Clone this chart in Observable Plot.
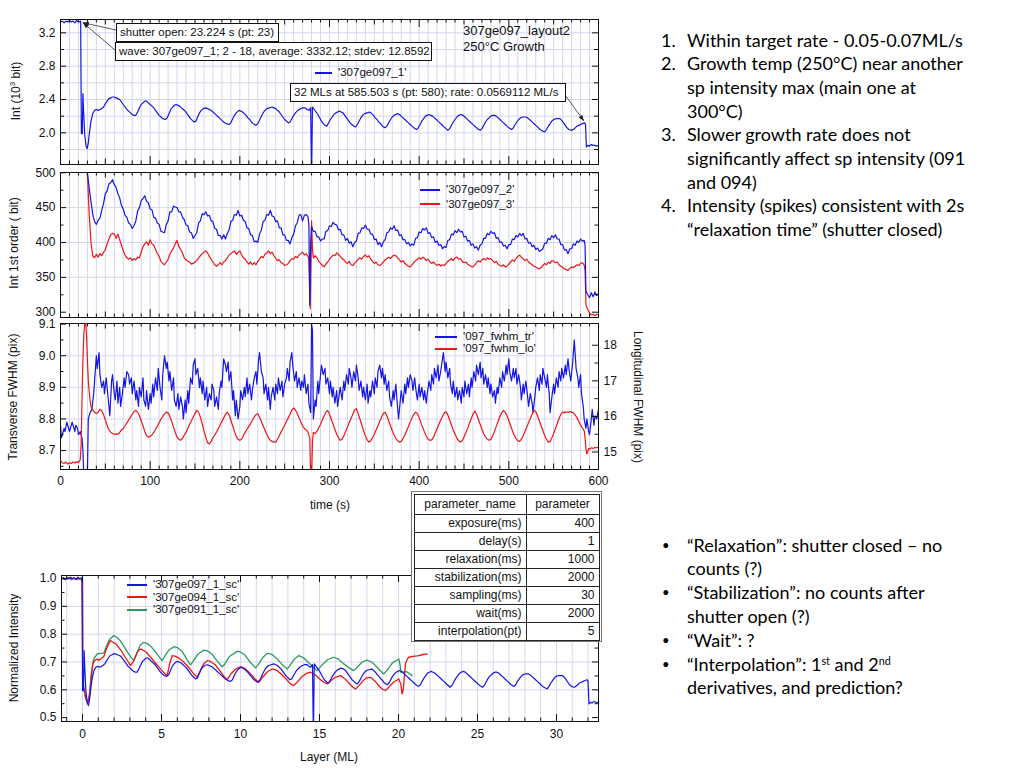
<!DOCTYPE html>
<html><head><meta charset="utf-8">
<script src="https://cdn.jsdelivr.net/npm/d3@7"></script>
<script src="https://cdn.jsdelivr.net/npm/@observablehq/plot@0.6"></script>
<style>
body{margin:0;background:#fff;}
#slide{position:relative;width:1024px;height:768px;overflow:hidden;background:#fff;font-family:"Liberation Sans",Arial,sans-serif;color:#111;}
#slide svg{position:absolute;left:0;top:0;}
.lbl{position:absolute;font-size:11.5px;line-height:14px;white-space:nowrap;}
.rotl{transform:translate(-50%,-50%) rotate(-90deg);font-size:12px;}
.rotr{transform:translate(-50%,-50%) rotate(90deg);font-size:12px;}
.box{position:absolute;border:1px solid #111;background:#fff;font-size:11.5px;box-sizing:border-box;white-space:nowrap;padding-left:3px;}
.leg{position:absolute;height:1.5px;}
.note{position:absolute;font-family:Lato,"Open Sans",sans-serif;font-size:18px;line-height:23px;height:23px;white-space:nowrap;color:#000;}
.bul{position:absolute;font-family:Lato,"Open Sans",sans-serif;font-size:13px;line-height:23px;height:23px;color:#000;}
sup{font-size:0.6em;vertical-align:0.6em;line-height:0;}
#tbl{position:absolute;left:411px;top:491px;width:191px;height:151px;box-sizing:border-box;border:1.5px solid #777;background:#fff;padding:1.5px;}
#tbl table{width:100%;height:100%;border-collapse:collapse;font-size:12px;}
#tbl td{border:1px solid #222;padding:0 4px;text-align:right;line-height:14px;}
#tbl tr.h td{text-align:center;}
</style></head>
<body><div id="slide"></div>
<script>
// ---------------- DATA ----------------
const shutterOpen = 23.224;      // s
const growthRate = 0.0569112;    // ML/s
const averageCounts = 3332.12;   // bit (pre-shutter average)

// '307ge097_1' : [time s, intensity 10^3 bit]
const int097_1 = [[0,3.33],[2,3.34],[4,3.32],[6,3.34],[8,3.33],[10,3.35],[12,3.33],[14,3.34],[16,3.32],[18,3.35],[20,3.33],[22.5,3.34],
[23.3,1.99],[24.3,1.99],[25,2.47],[25.8,2.25],[27,1.98],[28.5,1.84],[29.8,1.81],[31,1.88],[32.5,2.02],[34,2.14],[36,2.23],[38,2.27],[40,2.28],[42,2.27],[44,2.28],[46,2.29],[48,2.31],[50,2.35],[52,2.38],[54,2.41],[56,2.42],[58,2.43],[60,2.43],[62,2.42],[64,2.41],[66,2.40],[68,2.37],[70,2.34],[72,2.31],[74,2.28],[76,2.26],[78,2.24],[80,2.22],[82,2.21],[84,2.21],[86,2.25],[88,2.30],[90,2.34],[92,2.36],[94,2.38],[96,2.38],[98,2.36],[100,2.34],[102,2.32],[104,2.30],[106,2.27],[108,2.24],[110,2.21],[112,2.19],[114,2.17],[117,2.16],[119,2.18],[121,2.23],[123,2.28],[125,2.31],[127,2.33],[129,2.34],[131,2.33],[133,2.32],[135,2.30],[137,2.28],[139,2.26],[141,2.23],[143,2.20],[145,2.17],[147,2.15],[149,2.13],[151,2.14],[153,2.19],[155,2.24],[157,2.27],[159,2.29],[162,2.30],[164,2.29],[166,2.28],[168,2.27],[170,2.25],[172,2.23],[174,2.21],[176,2.19],[178,2.17],[180,2.15],[182,2.13],[185,2.11],[188,2.10],[190,2.12],[192,2.17],[194,2.21],[196,2.24],[199,2.27],[201,2.26],[203,2.25],[205,2.23],[207,2.21],[209,2.18],[211,2.16],[213,2.13],[215,2.11],[218,2.09],[220,2.11],[222,2.15],[224,2.20],[226,2.24],[228,2.27],[230,2.29],[233,2.30],[236,2.31],[238,2.30],[240,2.29],[242,2.27],[244,2.25],[246,2.22],[248,2.19],[250,2.16],[252,2.14],[254,2.12],[256,2.13],[258,2.17],[260,2.21],[262,2.24],[264,2.26],[266,2.28],[268,2.29],[270,2.30],[273,2.30],[275,2.28],[277,2.27],[279,2.30],[280,1.45],[281,2.31],[283,2.28],[285,2.25],[287,2.22],[289,2.18],[291,2.14],[293,2.11],[295,2.09],[297,2.08],[299,2.12],[301,2.16],[303,2.19],[305,2.22],[307,2.24],[309,2.25],[311,2.26],[313,2.25],[315,2.24],[317,2.21],[319,2.18],[321,2.15],[323,2.12],[325,2.10],[327,2.08],[329,2.07],[331,2.10],[333,2.14],[335,2.18],[337,2.21],[339,2.23],[342,2.24],[345,2.25],[347,2.23],[349,2.21],[351,2.18],[353,2.16],[355,2.13],[357,2.11],[359,2.08],[362,2.06],[364,2.08],[366,2.12],[368,2.16],[370,2.19],[372,2.21],[374,2.22],[376,2.23],[378,2.22],[380,2.20],[382,2.18],[384,2.16],[386,2.14],[388,2.12],[390,2.10],[392,2.08],[394,2.06],[397,2.04],[399,2.06],[401,2.10],[403,2.14],[405,2.17],[407,2.20],[409,2.21],[411,2.22],[413,2.21],[415,2.20],[417,2.18],[419,2.16],[421,2.14],[423,2.12],[425,2.10],[427,2.08],[429,2.06],[432,2.03],[434,2.05],[436,2.09],[438,2.13],[440,2.16],[442,2.19],[444,2.21],[447,2.22],[449,2.21],[451,2.19],[453,2.17],[455,2.15],[457,2.13],[459,2.11],[461,2.09],[463,2.07],[465,2.05],[468,2.03],[470,2.05],[472,2.09],[474,2.13],[476,2.16],[478,2.18],[480,2.20],[482,2.21],[484,2.21],[486,2.20],[488,2.18],[490,2.16],[492,2.14],[494,2.12],[496,2.10],[498,2.08],[500,2.06],[503,2.04],[505,2.06],[507,2.10],[509,2.13],[511,2.16],[513,2.18],[516,2.19],[519,2.19],[521,2.18],[523,2.16],[525,2.14],[527,2.12],[529,2.10],[531,2.08],[533,2.06],[535,2.04],[538,2.02],[540,2.01],[542,2.04],[544,2.08],[546,2.11],[548,2.14],[550,2.16],[553,2.17],[557,2.17],[559,2.15],[561,2.12],[563,2.09],[565,2.06],[567,2.04],[570,2.03],[572,2.04],[574,2.06],[576,2.08],[578,2.09],[580,2.10],[582,2.11],[584.5,2.12],[585.5,2.10],[586.5,1.83],[588,1.85],[590,1.84],[592,1.86],[594,1.85],[596,1.85],[598,1.84],[600,1.85]];

// '307ge097_2' : [time s, 1st order intensity bit]
const int097_2 = [[0,1500],[23,1500],[27,700],[30,500],[33,468],[36,440],[38,430],[40,426],[42,432],[44,435],[46,446],[48,456],[50,470],[52,474],[54,484],[56,486],[58,490],[60,483],[62,479],[64,470],[66,464],[68,453],[70,448],[72,439],[74,436],[76,428],[78,426],[80,420],[82,424],[84,431],[86,445],[88,450],[90,460],[92,463],[94,467],[96,459],[98,457],[100,448],[102,447],[104,436],[106,435],[108,428],[110,426],[112,416],[114,415],[116,414],[118,426],[120,431],[122,444],[124,444],[126,452],[128,451],[130,450],[132,444],[134,444],[136,436],[138,433],[140,425],[142,424],[144,415],[146,414],[148,406],[150,410],[152,414],[154,428],[156,431],[158,441],[160,440],[162,444],[164,438],[166,439],[168,431],[170,430],[172,420],[174,419],[176,410],[178,410],[180,405],[182,411],[184,405],[186,413],[188,418],[190,430],[192,432],[194,440],[196,439],[198,446],[200,438],[202,439],[204,432],[206,430],[208,421],[210,420],[212,411],[214,410],[216,401],[218,402],[220,400],[222,412],[224,418],[226,430],[228,432],[230,440],[232,439],[234,446],[236,438],[238,437],[240,430],[242,431],[244,421],[246,421],[248,411],[250,411],[252,403],[254,403],[256,398],[258,407],[260,412],[262,424],[264,428],[266,439],[268,440],[270,431],[272,439],[274,440],[276,437],[277,425],[278,310],[279,400],[280,423],[282,416],[284,416],[286,408],[288,408],[290,402],[292,405],[294,405],[296,416],[298,417],[300,424],[302,423],[304,429],[306,426],[308,425],[310,418],[312,419],[314,411],[316,411],[318,403],[320,406],[322,399],[324,401],[326,394],[328,400],[330,402],[332,413],[334,414],[336,421],[338,420],[340,425],[342,419],[344,419],[346,412],[348,412],[350,404],[352,405],[354,397],[356,400],[358,394],[360,401],[362,404],[364,414],[366,415],[368,421],[370,419],[372,424],[374,417],[376,418],[378,410],[380,411],[382,404],[384,404],[386,398],[388,400],[390,395],[392,398],[394,396],[396,406],[398,407],[400,415],[402,414],[404,420],[406,418],[408,421],[410,413],[412,414],[414,407],[416,408],[418,400],[420,402],[422,396],[424,397],[426,391],[428,394],[430,393],[432,403],[434,404],[436,412],[438,411],[440,417],[442,414],[444,419],[446,415],[448,416],[450,408],[452,409],[454,402],[456,403],[458,396],[460,398],[462,392],[464,394],[466,389],[468,396],[470,398],[472,406],[474,406],[476,413],[478,411],[480,416],[482,413],[484,414],[486,406],[488,407],[490,400],[492,401],[494,395],[496,396],[498,391],[500,397],[502,397],[504,405],[506,404],[508,410],[510,408],[512,413],[514,410],[516,413],[518,405],[520,406],[522,399],[524,400],[526,394],[528,396],[530,390],[532,392],[534,387],[536,389],[538,391],[540,399],[542,399],[544,406],[546,404],[548,410],[550,407],[552,411],[554,405],[556,405],[558,397],[560,397],[562,389],[564,390],[566,384],[568,391],[570,391],[572,398],[574,396],[576,402],[578,400],[580,405],[582,402],[584,403],[585,396],[586,330],[588,325],[590,321],[592,328],[594,322],[596,329],[598,324],[600,327]];

// '307ge097_3' : [time s, 1st order intensity bit]
const int097_3 = [[0,1500],[23,1500],[28,800],[30,500],[32,440],[34,400],[36,381],[38,378],[40,383],[42,379],[44,384],[46,381],[48,386],[50,390],[52,398],[54,405],[56,411],[58,413],[60,412],[62,406],[64,412],[66,404],[68,396],[70,388],[72,382],[74,378],[76,376],[78,378],[80,374],[82,377],[84,375],[86,379],[88,378],[90,386],[92,394],[94,398],[96,401],[98,396],[100,404],[102,398],[104,396],[106,390],[108,384],[110,380],[112,373],[114,370],[116,368],[118,372],[120,376],[122,383],[124,388],[126,392],[128,398],[130,403],[132,394],[134,390],[136,385],[138,378],[140,375],[142,373],[144,372],[146,369],[148,370],[150,372],[152,374],[154,378],[156,381],[158,384],[160,386],[162,388],[164,385],[166,380],[168,376],[170,372],[172,368],[174,366],[176,368],[178,371],[180,368],[182,372],[184,374],[186,378],[188,382],[190,384],[192,386],[194,388],[196,383],[198,386],[200,388],[202,382],[204,378],[206,376],[208,372],[210,369],[212,372],[214,368],[216,371],[218,368],[220,373],[222,376],[224,380],[226,378],[228,383],[230,385],[232,388],[234,384],[236,386],[238,381],[240,377],[242,374],[244,375],[246,371],[248,370],[250,367],[252,368],[254,370],[256,374],[258,377],[260,376],[262,380],[264,378],[266,382],[268,384],[270,386],[272,382],[274,384],[276,380],[277,376],[278.5,305],[279.5,380],[280,431],[281,390],[282,378],[284,381],[286,378],[288,373],[290,370],[292,367],[294,365],[296,369],[298,372],[300,376],[302,379],[304,382],[306,381],[308,385],[310,383],[312,380],[314,377],[316,375],[318,372],[320,370],[322,373],[324,368],[326,367],[328,370],[330,373],[332,376],[334,378],[336,376],[338,380],[340,382],[342,379],[344,381],[346,376],[348,373],[350,370],[352,372],[354,368],[356,367],[358,369],[360,372],[362,375],[364,377],[366,379],[368,377],[370,380],[372,382],[374,381],[376,378],[378,375],[380,372],[382,374],[384,370],[386,368],[388,366],[390,365],[392,368],[394,371],[396,374],[398,376],[400,378],[402,376],[404,379],[406,377],[408,374],[410,376],[412,372],[414,370],[416,372],[418,369],[420,367],[422,369],[424,366],[426,368],[428,367],[430,370],[432,373],[434,375],[436,377],[438,374],[440,378],[442,379],[444,376],[446,377],[448,373],[450,371],[452,372],[454,369],[456,367],[458,366],[460,365],[462,368],[464,371],[466,374],[468,372],[470,375],[472,377],[474,375],[476,378],[478,376],[480,377],[482,374],[484,371],[486,373],[488,369],[490,367],[492,366],[494,368],[496,365],[498,366],[500,369],[502,372],[504,375],[506,373],[508,377],[510,380],[512,382],[514,379],[516,377],[518,374],[520,376],[522,372],[524,370],[526,368],[528,366],[530,365],[532,363],[534,362],[536,364],[538,367],[540,370],[542,368],[544,372],[546,370],[548,374],[550,373],[552,371],[554,372],[556,368],[558,366],[560,364],[562,362],[564,361],[566,360],[568,363],[570,365],[572,364],[574,366],[576,368],[578,367],[580,370],[582,371],[584,368],[585,360],[586,310],[588,304],[590,299],[592,296],[594,297],[596,295],[598,297],[600,296]];

// '097_fwhm_tr' : [time s, transverse FWHM pix]
const fwhmTr = [[0,8.78],[1,8.74],[2,8.75],[4,8.77],[5,8.76],[7,8.79],[8,8.78],[10,8.76],[11,8.77],[13,8.79],[14,8.78],[16,8.76],[17,8.78],[19,8.77],[20,8.75],[22,8.76],[24,8.74],[25,8.70],[26,8.62],[28,8.60],[30,8.62],[31,8.80],[33,8.82],[35,8.83],[37,8.88],[38,8.92],[40,9.00],[41,8.96],[43,9.01],[44,8.94],[46,8.90],[48,8.92],[49,8.88],[51,8.93],[53,8.87],[55,8.81],[57,8.92],[58,8.94],[60,8.88],[61,8.86],[63,8.92],[64,8.85],[66,8.90],[67,8.84],[69,8.88],[71,8.93],[72,8.90],[74,8.95],[76,8.94],[77,8.91],[79,8.93],[80,8.88],[82,8.92],[84,8.86],[85,8.89],[87,8.84],[88,8.90],[90,8.87],[92,8.93],[93,8.86],[95,8.84],[96,8.89],[98,8.83],[100,8.88],[101,8.85],[103,8.91],[104,8.87],[106,8.93],[108,8.89],[109,8.96],[111,8.90],[113,8.86],[114,8.94],[116,9.00],[118,8.96],[119,8.98],[121,8.92],[122,8.95],[124,8.89],[126,8.93],[127,8.86],[129,8.84],[131,8.88],[132,8.83],[134,8.87],[136,8.84],[137,8.80],[139,8.86],[140,8.82],[142,8.89],[143,8.85],[145,8.93],[147,8.91],[148,8.97],[150,8.99],[151,8.94],[153,8.96],[155,8.90],[156,8.93],[158,8.88],[159,8.92],[161,8.86],[163,8.90],[164,8.84],[166,8.88],[168,8.86],[169,8.91],[171,8.89],[172,8.84],[174,8.87],[176,8.83],[177,8.88],[179,8.92],[180,8.90],[182,8.99],[184,8.97],[185,8.95],[187,8.98],[188,8.92],[190,8.95],[192,8.86],[193,8.89],[195,8.81],[196,8.86],[198,8.80],[200,8.84],[201,8.89],[203,8.86],[205,8.90],[206,8.87],[208,8.93],[209,8.88],[211,8.91],[213,8.86],[214,8.89],[216,8.93],[218,8.95],[219,8.91],[221,8.99],[222,9.01],[224,8.95],[226,8.93],[227,8.88],[229,8.91],[231,8.86],[232,8.90],[234,8.83],[235,8.87],[237,8.90],[239,8.86],[240,8.91],[242,8.88],[243,8.93],[245,8.89],[247,8.92],[248,8.87],[250,8.91],[252,8.93],[253,8.96],[255,8.92],[256,8.98],[258,9.01],[259,8.97],[261,8.92],[263,8.95],[264,8.90],[266,8.93],[268,8.89],[269,8.92],[271,8.90],[272,8.94],[274,8.88],[276,8.91],[277,8.85],[279,8.82],[280,9.10],[281,9.08],[282,8.80],[284,8.86],[285,8.84],[287,8.92],[288,8.88],[290,8.94],[291,8.97],[293,8.94],[295,8.96],[296,8.91],[298,8.93],[300,8.88],[301,8.92],[303,8.87],[304,8.90],[306,8.85],[308,8.89],[309,8.84],[311,8.88],[312,8.90],[314,8.86],[316,8.92],[317,8.89],[319,8.94],[321,8.91],[322,8.96],[324,8.93],[325,8.90],[327,8.95],[329,8.92],[330,8.97],[332,8.93],[333,8.89],[335,8.92],[337,8.87],[338,8.90],[340,8.86],[342,8.91],[343,8.85],[345,8.89],[346,8.87],[348,8.92],[350,8.88],[351,8.93],[353,8.90],[354,8.95],[356,8.97],[358,8.93],[359,8.96],[361,8.91],[362,8.94],[364,8.89],[366,8.92],[367,8.87],[369,8.84],[371,8.89],[372,8.86],[374,8.91],[375,8.87],[377,8.80],[379,8.86],[380,8.89],[382,8.85],[384,8.91],[385,8.88],[387,8.93],[388,8.90],[390,8.94],[392,8.92],[393,8.89],[395,8.93],[396,8.90],[398,8.86],[400,8.91],[401,8.87],[403,8.90],[405,8.86],[406,8.89],[408,8.85],[409,8.88],[411,8.92],[413,8.89],[414,8.94],[416,8.91],[417,8.96],[419,8.93],[421,8.97],[422,8.92],[424,8.95],[426,8.99],[427,9.01],[429,8.95],[430,8.98],[432,8.93],[434,8.96],[435,8.91],[437,8.88],[438,8.92],[440,8.87],[442,8.90],[443,8.86],[445,8.89],[447,8.85],[448,8.90],[450,8.87],[451,8.92],[453,8.88],[455,8.91],[456,8.87],[458,8.93],[459,8.90],[461,8.95],[463,8.92],[464,8.97],[466,8.94],[468,8.98],[469,8.93],[471,8.96],[472,8.91],[474,8.94],[476,8.90],[477,8.93],[479,8.88],[480,8.91],[482,8.87],[484,8.89],[485,8.85],[487,8.90],[488,8.88],[490,8.93],[492,8.90],[493,8.95],[495,8.92],[497,8.97],[498,8.94],[500,8.99],[501,8.95],[503,8.92],[505,8.96],[506,8.93],[508,8.96],[509,8.91],[511,8.94],[513,8.90],[514,8.86],[516,8.91],[517,8.88],[519,8.92],[521,8.87],[522,8.84],[524,8.88],[526,8.85],[527,8.82],[529,8.87],[530,8.90],[532,8.93],[534,8.89],[535,8.94],[537,8.91],[538,8.96],[540,8.93],[542,8.90],[543,8.94],[545,8.88],[546,8.82],[548,8.87],[550,8.91],[551,8.88],[553,8.93],[555,8.90],[556,8.95],[558,8.92],[559,8.96],[561,8.93],[563,8.97],[564,8.94],[566,8.99],[567,8.96],[569,8.92],[571,8.97],[572,9.01],[573,9.05],[575,8.96],[577,8.93],[578,8.90],[580,8.94],[581,8.88],[583,8.84],[584,8.80],[586,8.77],[587,8.80],[589,8.76],[590,8.75],[592,8.80],[593,8.83],[595,8.78],[596,8.81],[598,8.80],[600,8.83]];

// '097_fwhm_lo' : [time s, longitudinal FWHM pix]
const fwhmLo = [[0,14.77],[2,14.70],[4,14.68],[6,14.72],[8,14.66],[10,14.70],[12,14.68],[14,14.72],[16,14.69],[18,14.73],[20,14.71],[22,14.78],[23,15.2],[24,16.5],[25,17.6],[26,18.3],[27,18.6],[28,18.65],[29,18.3],[30,17.6],[31,17.0],[32,16.7],[33,16.45],[34,16.28],[36,16.18],[38,16.12],[40,16.08],[42,16.12],[44,16.20],[46,16.16],[48,16.05],[50,15.90],[52,15.75],[54,15.62],[56,15.56],[58,15.52],[60,15.50],[62,15.51],[64,15.50],[66,15.55],[68,15.62],[70,15.66],[72,15.74],[74,15.82],[76,15.90],[78,15.98],[80,16.06],[82,16.14],[84,16.17],[86,16.12],[88,16.02],[90,15.88],[92,15.74],[94,15.58],[96,15.46],[98,15.42],[100,15.44],[102,15.48],[104,15.55],[106,15.64],[108,15.72],[110,15.82],[112,15.92],[114,16.00],[116,16.07],[118,16.12],[120,16.10],[122,16.00],[124,15.86],[126,15.70],[128,15.55],[130,15.42],[132,15.36],[134,15.33],[136,15.38],[138,15.47],[140,15.56],[142,15.66],[144,15.78],[146,15.88],[148,15.98],[150,16.08],[152,16.17],[154,16.12],[156,15.98],[158,15.80],[160,15.60],[162,15.42],[164,15.26],[166,15.23],[168,15.30],[170,15.40],[172,15.48],[174,15.56],[176,15.66],[178,15.76],[180,15.86],[182,15.96],[184,16.06],[186,16.12],[188,16.04],[190,15.90],[192,15.74],[194,15.58],[196,15.44],[198,15.36],[200,15.33],[202,15.36],[204,15.46],[206,15.56],[208,15.64],[210,15.72],[212,15.80],[214,15.90],[216,15.98],[218,16.05],[220,16.08],[222,15.98],[224,15.86],[226,15.74],[228,15.62],[230,15.50],[232,15.40],[234,15.33],[236,15.30],[238,15.28],[240,15.28],[242,15.36],[244,15.46],[246,15.56],[248,15.66],[250,15.76],[252,15.86],[254,15.96],[256,16.06],[258,16.18],[260,16.24],[262,16.18],[264,16.08],[266,15.96],[268,15.84],[270,15.74],[272,15.66],[274,15.62],[276,15.56],[278,15.40],[279,14.30],[280,14.20],[281,15.30],[282,15.55],[284,15.52],[286,15.58],[288,15.68],[290,15.78],[292,15.90],[294,16.02],[296,16.12],[298,16.17],[300,16.06],[302,15.92],[304,15.78],[306,15.64],[308,15.50],[310,15.40],[312,15.33],[314,15.36],[316,15.46],[318,15.58],[320,15.70],[322,15.82],[324,15.94],[326,16.06],[328,16.18],[330,16.22],[332,16.08],[334,15.92],[336,15.76],[338,15.60],[340,15.46],[342,15.34],[344,15.28],[346,15.32],[348,15.40],[350,15.50],[352,15.62],[354,15.74],[356,15.86],[358,15.98],[360,16.08],[362,16.12],[364,16.02],[366,15.88],[368,15.74],[370,15.60],[372,15.48],[374,15.38],[376,15.32],[378,15.28],[380,15.30],[382,15.38],[384,15.48],[386,15.60],[388,15.72],[390,15.84],[392,15.96],[394,16.06],[396,16.12],[398,16.08],[400,15.96],[402,15.82],[404,15.68],[406,15.56],[408,15.44],[410,15.36],[412,15.33],[414,15.34],[416,15.42],[418,15.54],[420,15.66],[422,15.78],[424,15.90],[426,16.00],[428,16.10],[430,16.13],[432,16.04],[434,15.90],[436,15.76],[438,15.62],[440,15.50],[442,15.40],[444,15.32],[446,15.28],[448,15.32],[450,15.42],[452,15.54],[454,15.66],[456,15.80],[458,15.94],[460,16.06],[462,16.15],[464,16.06],[466,15.92],[468,15.78],[470,15.64],[472,15.52],[474,15.42],[476,15.36],[478,15.33],[480,15.36],[482,15.46],[484,15.58],[486,15.72],[488,15.86],[490,16.00],[492,16.10],[494,16.17],[496,16.12],[498,16.02],[500,15.88],[502,15.74],[504,15.60],[506,15.48],[508,15.38],[510,15.32],[512,15.30],[514,15.36],[516,15.46],[518,15.58],[520,15.70],[522,15.82],[524,15.94],[526,16.06],[528,16.18],[530,16.14],[532,16.02],[534,15.88],[536,15.74],[538,15.60],[540,15.46],[542,15.36],[544,15.28],[546,15.30],[548,15.40],[550,15.52],[552,15.66],[554,15.80],[556,15.94],[558,16.06],[560,16.12],[562,16.10],[564,16.13],[566,16.11],[568,16.14],[570,16.12],[572,16.10],[574,16.04],[576,15.96],[578,15.86],[580,15.76],[582,15.68],[584,15.60],[585,15.40],[586,15.10],[587,14.95],[588,15.00],[589,15.10],[590,15.08],[592,15.12],[594,15.10],[596,15.13],[598,15.12],[600,15.14]];

// '307ge094_1_sc' : [layer ML, normalized intensity]
const sc094 = [[-1.33,1.0],[-1.1,0.998],[-0.9,1.002],[-0.7,0.999],[-0.5,1.001],[-0.3,0.998],[-0.1,1.0],[0,0.99],[0.02,0.62],[0.1,0.60],[0.2,0.57],[0.33,0.55],[0.45,0.58],[0.55,0.64],[0.65,0.69],[0.75,0.705],[0.9,0.71],[1.05,0.706],[1.2,0.713],[1.35,0.72],[1.5,0.745],[1.65,0.765],[1.77,0.777],[1.9,0.772],[2.1,0.766],[2.3,0.752],[2.5,0.736],[2.7,0.717],[2.9,0.700],[3.04,0.687],[3.2,0.700],[3.4,0.725],[3.55,0.742],[3.67,0.747],[3.85,0.742],[4.05,0.734],[4.3,0.718],[4.55,0.701],[4.8,0.684],[5.05,0.668],[5.2,0.658],[5.36,0.651],[5.5,0.690],[5.68,0.723],[5.85,0.721],[6.1,0.714],[6.4,0.700],[6.7,0.682],[7.0,0.660],[7.26,0.645],[7.45,0.668],[7.65,0.692],[7.89,0.705],[8.1,0.702],[8.4,0.690],[8.7,0.668],[9.0,0.645],[9.16,0.636],[9.4,0.658],[9.7,0.675],[10.0,0.683],[10.3,0.676],[10.6,0.660],[10.9,0.640],[11.16,0.627],[11.4,0.645],[11.7,0.665],[12.0,0.675],[12.3,0.670],[12.6,0.655],[12.9,0.638],[13.15,0.622],[13.37,0.615],[13.6,0.628],[13.9,0.648],[14.2,0.660],[14.43,0.663],[14.7,0.655],[15.0,0.640],[15.25,0.628],[15.49,0.621],[15.7,0.632],[16.0,0.645],[16.33,0.651],[16.6,0.640],[16.9,0.622],[17.1,0.610],[17.28,0.603],[17.5,0.615],[17.8,0.635],[18.0,0.643],[18.23,0.645],[18.5,0.632],[18.8,0.612],[19.0,0.601],[19.18,0.597],[19.4,0.610],[19.7,0.628],[20.02,0.639],[20.15,0.620],[20.23,0.585],[20.3,0.600],[20.44,0.693],[20.55,0.710],[20.65,0.717],[20.9,0.720],[21.2,0.722],[21.5,0.726],[21.82,0.729]];

// '307ge091_1_sc' : [layer ML, normalized intensity]
const sc091 = [[-1.33,1.0],[-1.2,1.003],[-1.0,0.997],[-0.85,1.004],[-0.7,0.996],[-0.55,1.003],[-0.4,0.997],[-0.25,1.002],[-0.1,0.998],[0,1.0],[0.02,0.63],[0.1,0.60],[0.2,0.57],[0.33,0.555],[0.45,0.59],[0.55,0.66],[0.7,0.71],[0.93,0.729],[1.1,0.731],[1.35,0.732],[1.5,0.755],[1.7,0.78],[1.98,0.795],[2.2,0.788],[2.4,0.776],[2.6,0.758],[2.8,0.740],[3.0,0.722],[3.25,0.705],[3.45,0.735],[3.65,0.760],[3.88,0.771],[4.1,0.766],[4.35,0.755],[4.6,0.738],[4.85,0.718],[5.04,0.705],[5.2,0.720],[5.45,0.742],[5.78,0.755],[6.0,0.752],[6.3,0.738],[6.6,0.710],[6.84,0.690],[7.0,0.702],[7.3,0.728],[7.68,0.743],[7.9,0.740],[8.2,0.728],[8.5,0.705],[8.84,0.683],[9.0,0.692],[9.3,0.720],[9.79,0.738],[10.0,0.736],[10.3,0.724],[10.6,0.700],[10.95,0.679],[11.1,0.688],[11.4,0.715],[11.69,0.731],[12.0,0.727],[12.3,0.712],[12.6,0.693],[12.96,0.675],[13.1,0.685],[13.4,0.710],[13.69,0.723],[14.0,0.715],[14.3,0.698],[14.6,0.682],[14.85,0.669],[15.1,0.685],[15.5,0.708],[15.9,0.717],[16.2,0.710],[16.5,0.695],[16.9,0.678],[17.17,0.669],[17.4,0.682],[17.7,0.700],[18.0,0.707],[18.3,0.700],[18.6,0.684],[18.9,0.666],[19.07,0.657],[19.3,0.672],[19.6,0.696],[20.02,0.711],[20.1,0.690],[20.15,0.663],[20.4,0.665],[20.55,0.664],[20.7,0.658],[20.87,0.651]];

// tick labels
const timeLabels = [0,100,200,300,400,500,600];
const int1Labels = [2.0,2.4,2.8,3.2];
const int1Minor = [1.8,2.2,2.6,3.0];
const int2Labels = [300,350,400,450,500];
const int2Minor = [325,375,425,475];
const trLabels = [8.7,8.8,8.9,9.0,9.1];
const trMinor = [8.65,8.75,8.85,8.95,9.05];
const loLabels = [15,16,17,18];
const loMinor = [15.5,16.5,17.5];
const layerLabels = [0,5,10,15,20,25,30];
const normLabels = [0.5,0.6,0.7,0.8,0.9,1.0];
const normMinor = [0.55,0.65,0.75,0.85,0.95];

// table
const paramNames = ["exposure(ms)","delay(s)","relaxation(ms)","stabilization(ms)","sampling(ms)","wait(ms)","interpolation(pt)"];
const paramValues = [400,1,1000,2000,30,2000,5];

// ---------------- DRAWING ----------------
const FONT = '"Liberation Sans", Arial, sans-serif';
const INK = "#111", GRID = "#d5d5f1";
const BLUE = "#1515e6", RED = "#ee1616", GREEN = "#2e9a5e";
const W = 640, H = 768;
const STYLE = {background: "transparent", overflow: "visible", fontFamily: FONT, fontSize: "12px", color: INK};
const slide = document.getElementById("slide");
const X = d => d[0], Y = d => d[1];
const id = d => d;

function xTicks(ph, sets) {
  const out = [];
  for (const [vals, len] of sets) {
    out.push(Plot.tickX(vals, {x: id, insetBottom: ph - len, stroke: INK}));
    out.push(Plot.tickX(vals, {x: id, insetTop: ph - len, stroke: INK}));
  }
  return out;
}
function yTicks(pw, sets, sides = ["left","right"]) {
  const out = [];
  for (const [vals, len] of sets) {
    if (sides.includes("left")) out.push(Plot.tickY(vals, {y: id, insetRight: pw - len, stroke: INK}));
    if (sides.includes("right")) out.push(Plot.tickY(vals, {y: id, insetLeft: pw - len, stroke: INK}));
  }
  return out;
}
function panel(o) {
  const pw = o.right - o.left, ph = o.bottom - o.top;
  const p = Plot.plot({
    width: W, height: H,
    marginLeft: o.left, marginRight: W - o.right, marginTop: o.top, marginBottom: H - o.bottom,
    x: {domain: o.xd, axis: o.xAxis ? undefined : null},
    y: {domain: o.yd, axis: null},
    style: STYLE,
    marks: o.marks(pw, ph)
  });
  slide.appendChild(p);
  return p;
}

const timeMinor = d3.range(10, 600, 10).filter(t => t % 50 !== 0);
const time50 = [50,150,250,350,450,550];
const timeGrid = d3.range(10, 600, 10);
const timeTickSets = [[timeMinor, 3.5], [time50, 5.5], [timeLabels, 8]];

// Panel 1
const p1 = panel({left: 60, right: 598, top: 19, bottom: 164, xd: [0, 600], yd: [1.62, 3.36],
  marks: (pw, ph) => [
    Plot.ruleX(timeGrid, {x: id, stroke: GRID}),
    Plot.ruleY(d3.range(1.8, 3.35, 0.2), {y: id, stroke: GRID}),
    Plot.line(int097_1, {x: X, y: Y, stroke: BLUE, strokeWidth: 1.2, clip: true}),
    ...xTicks(ph, timeTickSets),
    ...yTicks(pw, [[int1Labels, 6], [int1Minor, 4]]),
    Plot.axisY(int1Labels, {anchor: "left", tickSize: 0, tickPadding: 5, tickFormat: d3.format(".1f"), label: null, fontSize: 12}),
    Plot.frame({stroke: INK})
  ]});

// Panel 2
panel({left: 60, right: 598, top: 172, bottom: 317, xd: [0, 600], yd: [292.4, 500.4],
  marks: (pw, ph) => [
    Plot.ruleX(timeGrid, {x: id, stroke: GRID}),
    Plot.ruleY([350, 400, 450], {y: id, stroke: GRID}),
    Plot.line(int097_3, {x: X, y: Y, stroke: RED, strokeWidth: 1.2, clip: true}),
    Plot.line(int097_2, {x: X, y: Y, stroke: BLUE, strokeWidth: 1.2, clip: true}),
    ...xTicks(ph, timeTickSets),
    ...yTicks(pw, [[int2Labels, 6], [int2Minor, 3.5]]),
    Plot.axisY(int2Labels, {anchor: "left", tickSize: 0, tickPadding: 5, tickFormat: d3.format("d"), label: null, fontSize: 12}),
    Plot.frame({stroke: INK})
  ]});

// Panel 3 (left axis: transverse)
panel({left: 60, right: 598, top: 323, bottom: 469, xd: [0, 600], yd: [8.640, 9.102], xAxis: true,
  marks: (pw, ph) => [
    Plot.ruleX(timeGrid, {x: id, stroke: GRID}),
    Plot.ruleY([8.7, 8.8, 8.9, 9.0], {y: id, stroke: GRID}),
    Plot.line(fwhmTr, {x: X, y: Y, stroke: BLUE, strokeWidth: 1.2, clip: true}),
    ...xTicks(ph, timeTickSets),
    ...yTicks(pw, [[trLabels, 6], [trMinor, 3.5]], ["left"]),
    Plot.axisY(trLabels, {anchor: "left", tickSize: 0, tickPadding: 5, tickFormat: d3.format(".1f"), label: null, fontSize: 12}),
    Plot.axisX(timeLabels, {anchor: "bottom", tickSize: 0, tickPadding: 7, label: null, fontSize: 12}),
    Plot.frame({stroke: INK})
  ]});
// Panel 3 overlay (right axis: longitudinal)
panel({left: 60, right: 598, top: 323, bottom: 469, xd: [0, 600], yd: [14.51, 18.61],
  marks: (pw, ph) => [
    Plot.line(fwhmLo, {x: X, y: Y, stroke: RED, strokeWidth: 1.2, clip: true}),
    ...yTicks(pw, [[loLabels, 6], [loMinor, 3.5]], ["right"]),
    Plot.axisY(loLabels, {anchor: "right", tickSize: 0, tickPadding: 5, label: null, fontSize: 12})
  ]});

// Bottom panel (layer)
const sc097 = int097_1.map(([t, v]) => [(t - shutterOpen) * growthRate, v * 1000 / averageCounts]);
const layerGrid = d3.range(-1, 33, 1);
panel({left: 61, right: 598, top: 575, bottom: 721, xd: [-1.33, 32.66], yd: [0.486, 1.011], xAxis: true,
  marks: (pw, ph) => [
    Plot.ruleX(layerGrid, {x: id, stroke: GRID}),
    Plot.ruleY([0.6, 0.7, 0.8, 0.9], {y: id, stroke: GRID}),
    Plot.line(sc091, {x: X, y: Y, stroke: GREEN, strokeWidth: 1.3, clip: true}),
    Plot.line(sc094, {x: X, y: Y, stroke: RED, strokeWidth: 1.3, clip: true}),
    Plot.line(sc097, {x: X, y: Y, stroke: BLUE, strokeWidth: 1.2, clip: true}),
    ...xTicks(ph, [[layerGrid.filter(v => v % 5 !== 0), 3.5], [layerLabels, 7]]),
    ...yTicks(pw, [[normLabels, 6], [normMinor, 3.5]]),
    Plot.axisY(normLabels, {anchor: "left", tickSize: 0, tickPadding: 5, tickFormat: d3.format(".1f"), label: null, fontSize: 12}),
    Plot.axisX(layerLabels, {anchor: "bottom", tickSize: 0, tickPadding: 8, label: null, fontSize: 12}),
    Plot.frame({stroke: INK})
  ]});

// annotation arrows in panel 1 (tips through the plot's scales)
{
  const sx = p1.scale("x"), sy = p1.scale("y");
  const svg = d3.select(p1);
  const shutterV = int097_1.find(d => d[0] >= 22.5)[1];
  const endPt = int097_1.find(d => d[0] >= 585.5);
  const tip1 = [sx.apply(shutterOpen) + 2, sy.apply(shutterV) + 2];
  const tip2 = [sx.apply(endPt[0]) - 1, sy.apply(endPt[1]) - 3];
  function arrow(x1, y1, [x2, y2]) {
    svg.append("line").attr("x1", x1).attr("y1", y1).attr("x2", x2).attr("y2", y2).attr("stroke", "#333").attr("stroke-width", 0.8);
    const a = Math.atan2(y2 - y1, x2 - x1), L = 6, w = 2.2;
    const bx = x2 - L * Math.cos(a), by = y2 - L * Math.sin(a);
    const px = -Math.sin(a) * w, py = Math.cos(a) * w;
    svg.append("path").attr("d", `M${x2},${y2}L${bx + px},${by + py}L${bx - px},${by - py}Z`).attr("fill", "#222");
  }
  arrow(116, 30, tip1);
  arrow(115, 50, tip1);
  arrow(565, 95, tip2);
}

// ---------------- HTML TEXT ----------------
function add(html, style, cls = "lbl") {
  const d = document.createElement("div");
  d.className = cls; d.innerHTML = html; d.setAttribute("style", style);
  slide.appendChild(d); return d;
}
// axis titles
add("Int (10<sup style='font-size:8px;vertical-align:5px'>3</sup> bit)", "left:16px;top:91px;", "lbl rotl");
add("Int 1st order ( bit)", "left:14px;top:243px;", "lbl rotl");
add("Transverse FWHM (pix)", "left:13px;top:397px;", "lbl rotl");
add("Longitudinal FWHM (pix)", "left:638px;top:397px;", "lbl rotr");
add("Normalized Intensity", "left:14px;top:648px;", "lbl rotl");
add("time (s)", "left:330px;top:505px;transform:translate(-50%,-50%);font-size:12px;");
add("Layer (ML)", "left:329px;top:757px;transform:translate(-50%,-50%);font-size:12px;");

// panel 1 annotations
add("shutter open: 23.224 s (pt: 23)", "left:116px;top:23px;width:163px;height:18.5px;line-height:17px;", "box");
add("wave: 307ge097_1; 2 - 18, average: 3332.12; stdev: 12.8592", "left:115px;top:42px;width:317px;height:19px;line-height:17px;", "box");
add("32 MLs at 585.503 s (pt: 580); rate: 0.0569112 ML/s", "left:290px;top:83px;width:276px;height:19px;line-height:17px;", "box");
add("307ge097_layout2", "left:463px;top:23px;font-size:13px;line-height:15px;");
add("250°C Growth", "left:463px;top:38.5px;font-size:13px;line-height:15px;");

// legends
function legend(x, y, color, text, len) {
  add("", `left:${x}px;top:${Math.round(y) - 1}px;width:${len}px;background:${color};`, "leg");
  add(text, `left:${x + len + 6}px;top:${y - 7.5}px;`);
}
legend(315, 72.5, BLUE, "'307ge097_1'", 17);
legend(420, 189.5, BLUE, "'307ge097_2'", 20);
legend(420, 204, RED, "'307ge097_3'", 20);
legend(435, 336.5, BLUE, "'097_fwhm_tr'", 22);
legend(435, 348.5, RED, "'097_fwhm_lo'", 22);
legend(127, 584.5, BLUE, "'307ge097_1_sc'", 20);
legend(127, 597, RED, "'307ge094_1_sc'", 20);
legend(127, 609.5, GREEN, "'307ge091_1_sc'", 20);

// parameter table
{
  const d = document.createElement("div"); d.id = "tbl";
  let h = "<table><colgroup><col style='width:112px'><col></colgroup><tr class='h' style='height:20px'><td>parameter_name</td><td>parameter</td></tr>";
  paramNames.forEach((n, i) => { h += `<tr style="height:18px"><td>${n}</td><td>${paramValues[i]}</td></tr>`; });
  d.innerHTML = h + "</table>";
  slide.appendChild(d);
}

// slide notes
const numbered = [
  ["1.", ["Within target rate - 0.05-0.07ML/s"]],
  ["2.", ["Growth temp (250°C) near another", "sp intensity max (main one at", "300°C)"]],
  ["3.", ["Slower growth rate does not", "significantly affect sp intensity (091", "and 094)"]],
  ["4.", ["Intensity (spikes) consistent with 2s", "“relaxation time” (shutter closed)"]]
];
const bullets = [
  ["“Relaxation”: shutter closed – no", "counts (?)"],
  ["“Stabilization”: no counts after", "shutter open (?)"],
  ["“Wait”: ?"],
  ["“Interpolation”: 1<sup>st</sup> and 2<sup>nd</sup>", "derivatives, and prediction?"]
];
{
  let k = 0;
  numbered.forEach(([n, lines]) => {
    lines.forEach((l, j) => {
      const cy = 40 + 23.7 * k;
      if (j === 0) add(n, `left:661px;top:${cy - 11.5}px;`, "note");
      add(l, `left:687px;top:${cy - 11.5}px;`, "note");
      k++;
    });
  });
  k = 0;
  bullets.forEach(lines => {
    lines.forEach((l, j) => {
      const cy = 545 + 23.8 * k;
      if (j === 0) add("•", `left:662px;top:${cy - 11.5}px;`, "bul");
      add(l, `left:687px;top:${cy - 11.5}px;`, "note");
      k++;
    });
  });
}
</script></body></html>
